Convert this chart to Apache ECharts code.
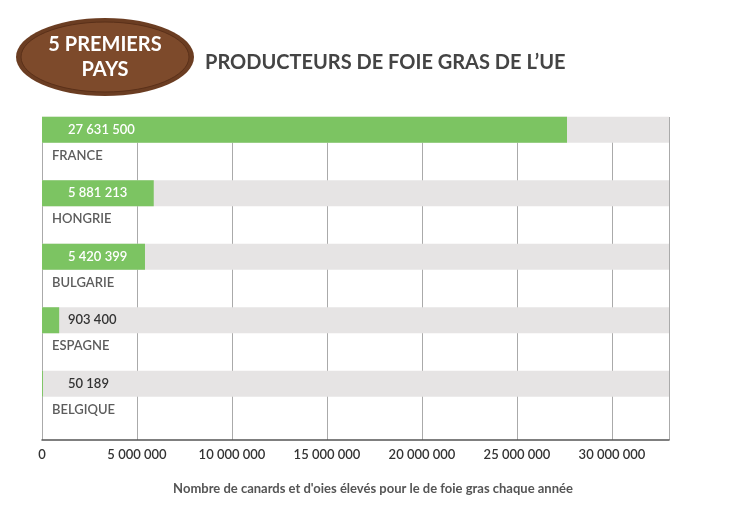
<!DOCTYPE html>
<html><head><meta charset="utf-8">
<script src="https://cdn.jsdelivr.net/npm/echarts@6/dist/echarts.min.js"></script>
<style>html,body{margin:0;padding:0;background:#fff}#c{width:730px;height:512px}</style>
</head><body><div id="c"></div>
<script>
const countries = ['FRANCE','HONGRIE','BULGARIE','ESPAGNE','BELGIQUE'];
const values = [27631500, 5881213, 5420399, 903400, 50189];
const valueLabels = ['27 631 500','5 881 213','5 420 399','903 400','50 189'];
const tickLabels = ['0','5 000 000','10 000 000','15 000 000','20 000 000','25 000 000','30 000 000'];
const labelDark = [false,false,false,true,true];
const F = 'Lato, "Open Sans", sans-serif';
const MAX = 33000000;
const chart = echarts.init(document.getElementById('c'));
chart.setOption({
  animation:false,
  textStyle:{fontFamily:F},
  grid:[{left:42,width:627,top:98,height:317.5},{left:42,width:627,top:117,height:323}],
  xAxis:[
    {gridIndex:0,type:'value',min:0,max:MAX,interval:5000000,show:false},
    {gridIndex:1,type:'value',min:0,max:MAX,interval:5000000,
     axisLine:{show:true,lineStyle:{color:'#555',width:1.5}},axisTick:{show:false},
     axisLabel:{color:'#333',fontSize:13,fontWeight:600,margin:8,fontFamily:F,showMaxLabel:false,
       formatter:(v)=>{const i=Math.round(v/5000000);return (v%5000000===0&&tickLabels[i]!==undefined)?tickLabels[i]:'';}},
     splitLine:{show:true,interval:(i,v)=>v<MAX,lineStyle:{color:'#aaa',width:1}}}
  ],
  yAxis:[
    {gridIndex:0,type:'category',data:countries,inverse:true,show:false},
    {gridIndex:1,type:'value',show:false}
  ],
  graphic:[
    {type:'ellipse',shape:{cx:105,cy:57,rx:89,ry:39},style:{fill:'#6b3d22'}},
    {type:'ellipse',shape:{cx:105,cy:57,rx:84,ry:35},style:{fill:'#7d4a2b',stroke:'#5a3019',lineWidth:1}},
    {type:'text',style:{text:'5 PREMIERS\nPAYS',x:105,y:57,align:'center',verticalAlign:'middle',fill:'#fff',font:'bold 20px '+F,lineHeight:25}},
    {type:'text',style:{text:'PRODUCTEURS DE FOIE GRAS DE L\u2019UE',x:205,y:63,verticalAlign:'middle',fill:'#444',font:'bold 20px '+F}},
    {type:'text',style:{text:"Nombre de canards et d'oies élevés pour le de foie gras chaque année",x:373,y:489,align:'center',verticalAlign:'middle',fill:'#555',font:'bold 13px '+F}}
  ],
  series:[
    {type:'bar',xAxisIndex:0,yAxisIndex:0,barWidth:26,
     showBackground:true,backgroundStyle:{color:'#e6e4e4'},
     itemStyle:{color:'#7cc462'},
     data:values.map((v,i)=>({value:v,label:{show:true,position:[26,'50%'],verticalAlign:'middle',
        formatter:valueLabels[i],color:labelDark[i]?'#333':'#fff',fontSize:13,fontWeight:600,fontFamily:F}})),
     z:3},
    {type:'scatter',xAxisIndex:0,yAxisIndex:0,symbolSize:0,
     data:countries.map((c,i)=>[0,i]),
     label:{show:true,position:'right',distance:10,offset:[0,26],color:'#333',fontSize:13,fontWeight:600,fontFamily:F,
       formatter:(p)=>countries[p.dataIndex]},z:4}
  ]
});
</script></body></html>
